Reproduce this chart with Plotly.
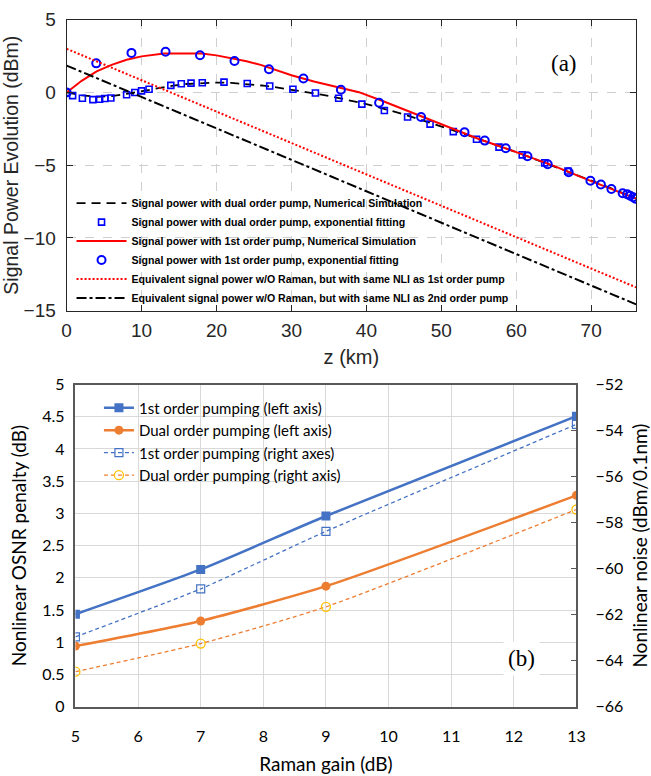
import plotly.graph_objects as go

# ---------------- Panel (a): signal power evolution along the span ----------------
z_dual_sim = [0, 2, 4, 6, 8, 10, 12, 14, 16, 18, 20, 22, 24, 26, 28, 30, 32, 34, 36, 38,
              40, 42, 45, 48, 51, 54, 57, 60, 64, 68, 72, 76]
p_dual_sim = [0, -0.2, -0.3, -0.25, -0.1, 0.1, 0.3, 0.45, 0.58, 0.65, 0.68, 0.66, 0.58,
              0.48, 0.35, 0.2, 0.03, -0.15, -0.35, -0.55, -0.8, -1.07, -1.5, -2.0, -2.5,
              -3.02, -3.56, -4.1, -4.88, -5.65, -6.45, -7.3]

z_dual_fit = [0, 0.8, 2.1, 3.5, 4.4, 5.1, 5.9, 8.0, 9.1, 10.0, 11.0, 13.9, 15.3, 16.6, 18.1,
              21.0, 24.1, 27.1, 30.2, 33.2, 36.3, 39.4, 42.4, 45.5, 48.5, 51.6, 54.7, 57.7,
              60.8, 63.8, 66.9]
p_dual_fit = [0, -0.22, -0.4, -0.49, -0.47, -0.42, -0.38, -0.16, 0.0, 0.11, 0.22, 0.49, 0.6,
              0.64, 0.67, 0.71, 0.62, 0.44, 0.22, -0.04, -0.4, -0.8, -1.24, -1.69, -2.18,
              -2.69, -3.22, -3.76, -4.29, -4.84, -5.4]

z_first_sim = [0, 2, 4, 6, 8, 10, 13, 16, 18, 20, 22, 24, 26, 28, 30, 33, 36, 39, 42, 45,
               48, 50, 55, 60, 65, 70, 76]
p_first_sim = [0, 0.8, 1.45, 1.9, 2.25, 2.48, 2.67, 2.7, 2.67, 2.55, 2.35, 2.15, 1.88, 1.55,
               1.18, 0.75, 0.4, 0.02, -0.55, -1.15, -1.8, -2.2, -3.2, -4.1, -5.05, -6.1, -7.3]

z_first_fit = [0, 3.95, 8.65, 13.2, 17.8, 22.4, 27.0, 31.6, 36.6, 41.7, 47.3, 53.1, 55.8,
               58.6, 61.5, 64.2, 67.0, 69.9, 71.3, 72.7, 74.2, 74.8, 75.2, 75.6, 75.9]
p_first_fit = [0, 2.0, 2.72, 2.8, 2.56, 2.16, 1.6, 0.96, 0.18, -0.71, -1.69, -2.73, -3.31,
               -3.84, -4.38, -4.93, -5.49, -6.07, -6.33, -6.64, -6.93, -7.0, -7.1, -7.2, -7.3]

z_equiv = [0, 76]
p_equiv_first = [3.0, -13.4]
p_equiv_second = [1.85, -14.57]

z_ticks = [0, 10, 20, 30, 40, 50, 60, 70]
p_ticks = [-15, -10, -5, 0, 5]

# ---------------- Panel (b): nonlinear penalty versus Raman gain ----------------
raman_gain = [5, 7, 9, 13]
osnr_first_left = [1.435, 2.13, 2.96, 4.51]
osnr_dual_left = [0.94, 1.33, 1.87, 3.28]
noise_first_right = [-62.97, -60.88, -58.38, -53.73]
noise_dual_right = [-64.48, -63.26, -61.66, -57.43]

W, H = 651, 776


def fx(px):
    return px / W


def fy(py):
    return 1 - py / H


fig = go.Figure()

LEG_A = dict(family="Liberation Sans, Arial", size=10.6, color="#000000")

fig.add_trace(go.Scatter(
    x=z_dual_sim, y=p_dual_sim, mode="lines",
    name="<b>Signal power with dual order pump, Numerical Simulation</b>",
    line=dict(color="#000000", width=1.8, dash="9px,6px"),
    xaxis="x", yaxis="y", legend="legend"))
fig.add_trace(go.Scatter(
    x=z_dual_fit, y=p_dual_fit, mode="markers",
    name="<b>Signal power with dual order pump, exponential fitting</b>",
    marker=dict(symbol="square-open", size=6, color="#0000ff", line=dict(width=1.6)),
    xaxis="x", yaxis="y", legend="legend"))
fig.add_trace(go.Scatter(
    x=z_first_sim, y=p_first_sim, mode="lines",
    name="<b>Signal power with 1st order pump, Numerical Simulation</b>",
    line=dict(color="#ff0000", width=2),
    xaxis="x", yaxis="y", legend="legend"))
fig.add_trace(go.Scatter(
    x=z_first_fit, y=p_first_fit, mode="markers",
    name="<b>Signal power with 1st order pump, exponential fitting</b>",
    marker=dict(symbol="circle-open", size=8, color="#0000ff", line=dict(width=2)),
    xaxis="x", yaxis="y", legend="legend"))
fig.add_trace(go.Scatter(
    x=z_equiv, y=p_equiv_first, mode="lines",
    name="<b>Equivalent signal power w/O Raman, but with same NLI as 1st order pump</b>",
    line=dict(color="#ff0000", width=2, dash="2px,2px"),
    xaxis="x", yaxis="y", legend="legend"))
fig.add_trace(go.Scatter(
    x=z_equiv, y=p_equiv_second, mode="lines",
    name="<b>Equivalent signal power w/O Raman, but with same NLI as 2nd order pump</b>",
    line=dict(color="#000000", width=2, dash="10px,3px,3px,3px"),
    xaxis="x", yaxis="y", legend="legend"))

BLUE = "#4472c4"
ORANGE = "#ed7d31"
GOLD = "#ffc000"

fig.add_trace(go.Scatter(
    x=raman_gain, y=osnr_first_left, mode="lines+markers",
    name="1st order pumping (left axis)",
    line=dict(color=BLUE, width=2.5, shape="spline", smoothing=0.6),
    marker=dict(symbol="square", size=9, color=BLUE),
    xaxis="x2", yaxis="y2", legend="legend2"))
fig.add_trace(go.Scatter(
    x=raman_gain, y=osnr_dual_left, mode="lines+markers",
    name="Dual order pumping (left axis)",
    line=dict(color=ORANGE, width=2.5, shape="spline", smoothing=0.6),
    marker=dict(symbol="circle", size=9, color=ORANGE),
    xaxis="x2", yaxis="y2", legend="legend2"))
fig.add_trace(go.Scatter(
    x=raman_gain, y=noise_first_right, mode="lines+markers",
    name="1st order pumping (right axes)",
    line=dict(color=BLUE, width=1.3, dash="4px,3px", shape="spline", smoothing=0.6),
    marker=dict(symbol="square-open", size=8, color=BLUE, line=dict(width=1.2)),
    xaxis="x2", yaxis="y3", legend="legend2"))
fig.add_trace(go.Scatter(
    x=raman_gain, y=noise_dual_right, mode="lines+markers",
    name="Dual order pumping (right axis)",
    line=dict(color=ORANGE, width=1.3, dash="4px,3px", shape="spline", smoothing=0.6),
    marker=dict(symbol="circle-open", size=9, color=GOLD, line=dict(width=1.3)),
    xaxis="x2", yaxis="y3", legend="legend2"))

AX_A = dict(family="Liberation Sans, Arial", size=19, color="#262626")
AX_B = dict(family="Lato, Open Sans", size=16, color="#000000")

fig.update_layout(
    width=W, height=H,
    margin=dict(l=0, r=0, t=0, b=0),
    paper_bgcolor="white", plot_bgcolor="white",
    showlegend=True,
    xaxis=dict(
        domain=[fx(63), fx(645)], anchor="y", range=[0, 76],
        tickvals=z_ticks, ticks="inside", ticklen=6, tickcolor="#262626",
        showline=True, linecolor="#262626", linewidth=1, mirror="ticks",
        showgrid=True, gridcolor="#cfcfcf", griddash="dash", gridwidth=1,
        zeroline=False, tickfont=AX_A, ticklabelstandoff=3,
        title=dict(text="z (km)", font=dict(family="Liberation Sans, Arial", size=20,
                                             color="#262626"), standoff=9)),
    yaxis=dict(
        domain=[fy(309), fy(10)], anchor="x", range=[-15, 5],
        tickvals=p_ticks, ticks="inside", ticklen=6, tickcolor="#262626",
        showline=True, linecolor="#262626", linewidth=1, mirror="ticks",
        showgrid=True, gridcolor="#cfcfcf", griddash="dash", gridwidth=1,
        zeroline=False, tickfont=AX_A, ticklabelstandoff=6,
        title=dict(text="Signal Power Evolution (dBm)",
                   font=dict(family="Liberation Sans, Arial", size=19.5, color="#262626"),
                   standoff=6)),
    xaxis2=dict(
        domain=[fx(72), fx(584)], anchor="y2", range=[5, 13], dtick=1,
        ticks="", showline=True, linecolor="#595959", linewidth=1.5, mirror=True,
        showgrid=True, gridcolor="#d9d9d9", gridwidth=1.3, zeroline=False,
        tickfont=AX_B, ticklabelstandoff=14,
        title=dict(text="Raman gain (dB)", font=dict(family="Lato, Open Sans", size=19,
                                                     color="#000000"), standoff=14)),
    yaxis2=dict(
        domain=[fy(716), fy(385)], anchor="x2", range=[0, 5], dtick=0.5,
        ticks="", showline=True, linecolor="#595959", linewidth=1.5, mirror=True,
        showgrid=True, gridcolor="#d9d9d9", gridwidth=1.3, zeroline=False,
        tickfont=AX_B, ticklabelstandoff=6,
        title=dict(text="Nonlinear OSNR penalty (dB)",
                   font=dict(family="Lato, Open Sans", size=19, color="#000000"),
                   standoff=10)),
    yaxis3=dict(
        overlaying="y2", side="right", anchor="x2", range=[-66, -52], dtick=2,
        ticks="inside", ticklen=6, tickcolor="#595959",
        showline=True, linecolor="#595959", linewidth=1.5,
        showgrid=False, zeroline=False, tickfont=AX_B, ticklabelstandoff=14,
        title=dict(text="Nonlinear noise (dBm/0.1nm)",
                   font=dict(family="Lato, Open Sans", size=19, color="#000000"),
                   standoff=12)),
    legend=dict(
        x=fx(68), y=fy(311), xanchor="left", yanchor="bottom",
        bgcolor="rgba(0,0,0,0)", borderwidth=0, font=LEG_A,
        tracegroupgap=0, itemwidth=50),
    legend2=dict(
        x=fx(96), y=fy(392), xanchor="left", yanchor="top",
        bgcolor="rgba(0,0,0,0)", borderwidth=0,
        font=dict(family="Lato, Open Sans", size=15, color="#000000"),
        tracegroupgap=0),
    annotations=[
        dict(text="(a)", x=fx(587), y=fy(40), xref="paper", yref="paper",
             showarrow=False, font=dict(family="Liberation Serif, Times New Roman",
                                        size=23, color="#000000")),
        dict(text="(b)", x=fx(547), y=fy(685), xref="paper", yref="paper",
             showarrow=False, bgcolor="white", borderpad=4,
             font=dict(family="Liberation Serif, Times New Roman", size=23,
                       color="#000000")),
    ],
)

fig.write_html("out.html")
